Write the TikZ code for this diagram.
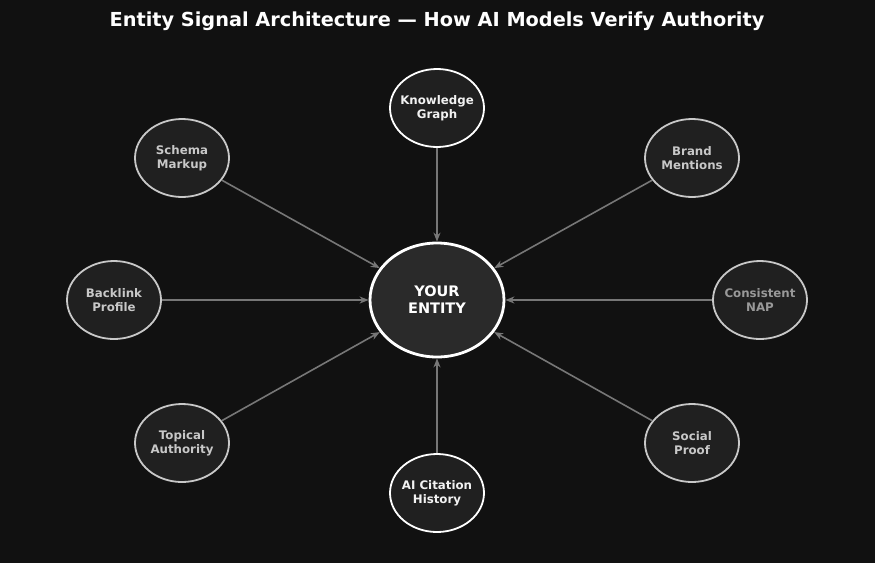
\documentclass[tikz,border=0pt]{standalone}
\usepackage{fontspec}
\setmainfont{DejaVu Sans}
\usetikzlibrary{shapes.geometric,arrows.meta}
\definecolor{bg}{HTML}{111111}
\definecolor{fillc}{HTML}{202020}
\definecolor{cfill}{HTML}{2A2A2A}
\definecolor{edgec}{HTML}{C8C8C8}
\definecolor{txtc}{HTML}{C8C8C8}
\definecolor{arr}{HTML}{777777}
\begin{document}
\begin{tikzpicture}[x=1pt,y=-1pt,
  sat/.style={ellipse,draw=edgec,line width=1.8pt,fill=fillc,minimum width=94pt,minimum height=78pt,inner xsep=-12pt,inner ysep=0pt,align=center,text=txtc,font=\bfseries\fontsize{11.8}{14}\selectfont},
  satw/.style={sat,draw=white,text=white!90!gray},
  arrow/.style={draw=arr,line width=1.6pt,-{Stealth[length=9pt,width=7pt]}}]
\fill[bg] (0,0) rectangle (875,563);
\useasboundingbox (0,0) rectangle (875,563);
\node[text=white,font=\bfseries\fontsize{19.3}{22}\selectfont] (title) at (437,21) {Entity Signal Architecture — How AI Models Verify Authority};
\node[ellipse,draw=white,line width=2.8pt,fill=cfill,minimum width=134pt,minimum height=114pt,text=white,align=center,font=\bfseries\fontsize{14.5}{17}\selectfont] (c) at (437,300) {YOUR\\ENTITY};
\node[satw] (kg) at (437,108) {Knowledge\\Graph};
\node[sat] (sm) at (182,158) {Schema\\Markup};
\node[sat] (bm) at (692,158) {Brand\\Mentions};
\node[sat] (bl) at (114,300) {Backlink\\Profile};
\node[sat,text=gray!80] (cn) at (760,300) {Consistent\\NAP};
\node[sat] (ta) at (182,443) {Topical\\Authority};
\node[sat] (sp) at (692,443) {Social\\Proof};
\node[satw] (ai) at (437,493) {AI Citation\\History};
\foreach \n in {kg,sm,bm,bl,cn,ta,sp,ai} \draw[arrow] (\n) -- (c);
\end{tikzpicture}
\end{document}
